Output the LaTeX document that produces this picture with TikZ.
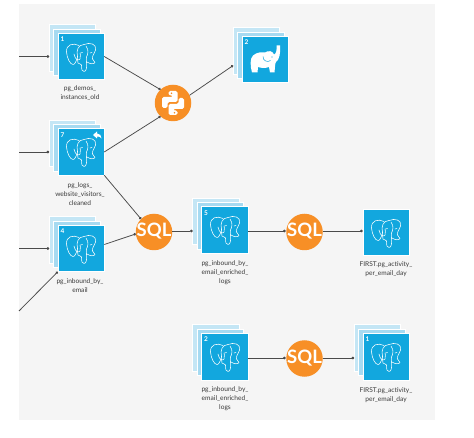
\documentclass[tikz,border=0pt]{standalone}
\usepackage{fontspec}
\setmainfont{Lato}
\usetikzlibrary{arrows.meta,calc}
\definecolor{bgc}{HTML}{F5F5F5}
\definecolor{blu}{HTML}{12A7DE}
\definecolor{blb}{HTML}{C4E6F5}
\definecolor{blm}{HTML}{A6DAF1}
\definecolor{org}{HTML}{F78F26}
\definecolor{lin}{HTML}{4A4A4A}
\definecolor{txt}{HTML}{3A3A3A}
\tikzset{
  x=1pt,y=-1pt,
  front/.style={fill=blu,draw=white,line width=0.5pt,minimum size=46.5pt,inner sep=0pt,outer sep=0pt},
  layerb/.style={fill=blb,draw=white,line width=0.5pt,minimum size=46.5pt,inner sep=0pt,outer sep=0pt},
  layerm/.style={fill=blm,draw=white,line width=0.5pt,minimum size=46.5pt,inner sep=0pt,outer sep=0pt},
  num/.style={text=white,font=\fontsize{6.5}{7}\selectfont\bfseries,inner sep=0pt},
  lbl/.style={text=txt,font=\fontsize{6.6}{9}\selectfont,align=center,inner sep=0pt,anchor=north},
  round/.style={circle,fill=org,minimum size=36.5pt,inner sep=0pt,outer sep=0pt},
  sqltxt/.style={text=white,font=\fontsize{18.5}{18}\selectfont\bfseries,inner sep=0pt},
  conn/.style={draw=lin,line width=0.75pt,-{Circle[length=2.6pt,width=2.6pt]}},
  elf/.style={draw=white,line width=0.55pt,line cap=round,line join=round},
}
\newcommand{\pgelephant}[2]{%
  \begin{scope}[shift={(#1,#2)},elf]
    \draw (-2,-10.5) .. controls (-8,-13.5) and (-15,-11.5) .. (-14.5,-4) .. controls (-14,2) and (-11,8.5) .. (-8,8.5) .. controls (-5.5,8.5) and (-5.5,5) .. (-4,3);
    \draw (3,-11.5) .. controls (-3,-11.5) and (-5,-5) .. (-3.5,0) .. controls (-3,3) and (-4,5) .. (-3,7) .. controls (-1.5,8.5) and (0,7.5) .. (0.5,9) .. controls (0.5,14) and (1,15.5) .. (3,15.5) .. controls (5.5,15.5) and (6,11) .. (5.5,6);
    \draw (3,-11.5) .. controls (9,-14) and (16,-12) .. (14.5,-6) .. controls (13.5,-2) and (11,-1) .. (11.5,3) .. controls (12,5) and (14,5.5) .. (14,6.5) .. controls (13,8.5) and (9,8) .. (6,6);
    \draw (5,-10) .. controls (8,-6) and (7,-2) .. (5.5,1) .. controls (5,3) and (5.5,5) .. (5.5,6);
    \draw (-7,-2) .. controls (-6,4) and (-2,5) .. (-1,3) .. controls (0,1) and (-1,-3) .. (-1,-3);
    \draw (-0.5,-3) -- (1.5,-3.5);
    \draw (9,-3) -- (11,-3.5);
  \end{scope}}
% name, x, y (front box centre), number
\newcommand{\stackbox}[4]{%
  \node[layerb] (#1-back) at (#2-8.6,#3-8.6) {};
  \node[layerm] (#1-mid) at (#2-4.3,#3-4.3) {};
  \node[front] (#1) at (#2,#3) {};
  \coordinate (#1-in) at (#1-back.west |- #1.center);
  \node[num] (#1-num) at (#2-18.5,#3-17) {#4};}
\begin{document}
\begin{tikzpicture}
\useasboundingbox (0,0) rectangle (474,438);
\fill[white] (0,0) rectangle (474,438);
\fill[bgc] (19,4) rectangle (435,420);

\coordinate (l1) at (19,56.5);
\coordinate (l2) at (19,152);
\coordinate (l3) at (19,248.5);
\coordinate (l4) at (19,311);

\stackbox{b1}{81}{56.5}{1}\pgelephant{81}{56}
\stackbox{b7}{81}{152}{7}\pgelephant{81}{151}
% reply icon of box 7
\fill[white] (93,135) -- (97,131.5) -- (97,133.5) .. controls (100,133.5) and (101.5,135.5) .. (101.5,138.5) .. controls (100.5,136.8) and (99,136.5) .. (97,136.5) -- (97,138.5) -- cycle;
\stackbox{b4}{81}{248.5}{4}\pgelephant{81}{248}
\stackbox{b5}{224.5}{230}{5}\pgelephant{225}{229}
\stackbox{b2}{224.5}{356.5}{2}\pgelephant{225}{356}
\stackbox{f2}{386}{356.5}{1}\pgelephant{386}{356}
\node[front] (f1) at (386,232.5) {};\pgelephant{386}{232}

% blue elephant box
\stackbox{el}{265}{59.5}{2}
\begin{scope}[shift={(265,59.5)}]
  \fill[white] (-13,13) .. controls (-15,6) and (-15,-1) .. (-12,-4) .. controls (-8,-7.5) and (-3,-7.5) .. (0,-7) .. controls (3,-9.5) and (8,-8.5) .. (9,-5) .. controls (11,-5.5) and (12,-9) .. (11.5,-14) -- (15,-14) .. controls (16,-7) and (14,1) .. (11,2.5) .. controls (10,3.5) and (10,8) .. (9.5,13) -- (5,13) -- (4,7.5) .. controls (0,9) and (-4,8.5) .. (-7,7.5) -- (-7.5,13) -- cycle;
  \draw[blu,line width=0.5pt] (-2,-3) .. controls (-2,2) and (3,3) .. (5.5,1);
  \fill[blu] (7,-2.5) circle (0.7);
\end{scope}

% python
\node[round] (py) at (173,103) {};
\begin{scope}[shift={(173,103)}]
  \fill[white,rounded corners=1.6pt] (-4.5,-12)--(4.5,-12)--(4.5,-1)--(-5.5,-1)--(-5.5,5)--(-11,5)--(-11,-6)--(0,-6)--(0,-7.5)--(-4.5,-7.5)--cycle;
  \fill[white,rounded corners=1.6pt] (4.5,12)--(-4.5,12)--(-4.5,1)--(5.5,1)--(5.5,-5)--(11,-5)--(11,6)--(0,6)--(0,7.5)--(4.5,7.5)--cycle;
  \fill[org] (-1.5,-9.8) circle (0.9) (1.5,9.8) circle (0.9);
\end{scope}

% sql
\node[round] (s1) at (154,232) {};
\node[sqltxt] (s1t) at (154,231.5) {SQL};
\node[round] (s2) at (304.5,232) {};
\node[sqltxt] (s2t) at (304.5,231.5) {SQL};
\node[round] (s3) at (304.5,358.5) {};
\node[sqltxt] (s3t) at (304.5,358) {SQL};

% connectors
\draw[conn] (l1) -- (b1-in);
\draw[conn] (l2) -- (b7-in);
\draw[conn] (l3) -- (b4-in);
\draw[conn] (l4) -- (b4.south west);
\draw[conn] (b1.east) -- (py.133);
\draw[conn] (b7.east) -- (py.227);
\draw[conn] (py.25) -- ([yshift=-6pt]el-in);
\draw[conn] (b7.south east) -- (s1.135);
\draw[conn] ([yshift=4pt]b4.east) -- (s1.186);
\draw[conn] ([yshift=1pt]s1.east) -- ([yshift=-1pt]b5-in);
\draw[conn] ([yshift=-1pt]b5.east) -- ([xshift=-0.5pt,yshift=-1pt]s2.west |- b5.east);
\draw[conn] ([yshift=1pt]s2.east) -- ([yshift=1.5pt]f1.west);
\draw[conn] ([yshift=-1.5pt]b2.east) -- ([xshift=-0.5pt,yshift=-1.5pt]s3.west |- b2.east);
\draw[conn] ([yshift=0.5pt]s3.east) -- ([yshift=-1.5pt]f2-in);

% labels
\node[lbl] (t1) at (80,85.5) {pg\_demos\_\\instances\_old};
\node[lbl] (t7) at (80,182.5) {pg\_logs\_\\website\_visitors\_\\cleaned};
\node[lbl] (t4) at (80,278.5) {pg\_inbound\_by\_\\email};
\node[lbl] (t5) at (225,260) {pg\_inbound\_by\_\\email\_enriched\_\\logs};
\node[lbl] (t2) at (225,386) {pg\_inbound\_by\_\\email\_enriched\_\\logs};
\node[lbl] (tf1) at (386,261) {FIRST.pg\_activity\_\\per\_email\_day};
\node[lbl] (tf2) at (386,387) {FIRST.pg\_activity\_\\per\_email\_day};
\end{tikzpicture}
\end{document}
